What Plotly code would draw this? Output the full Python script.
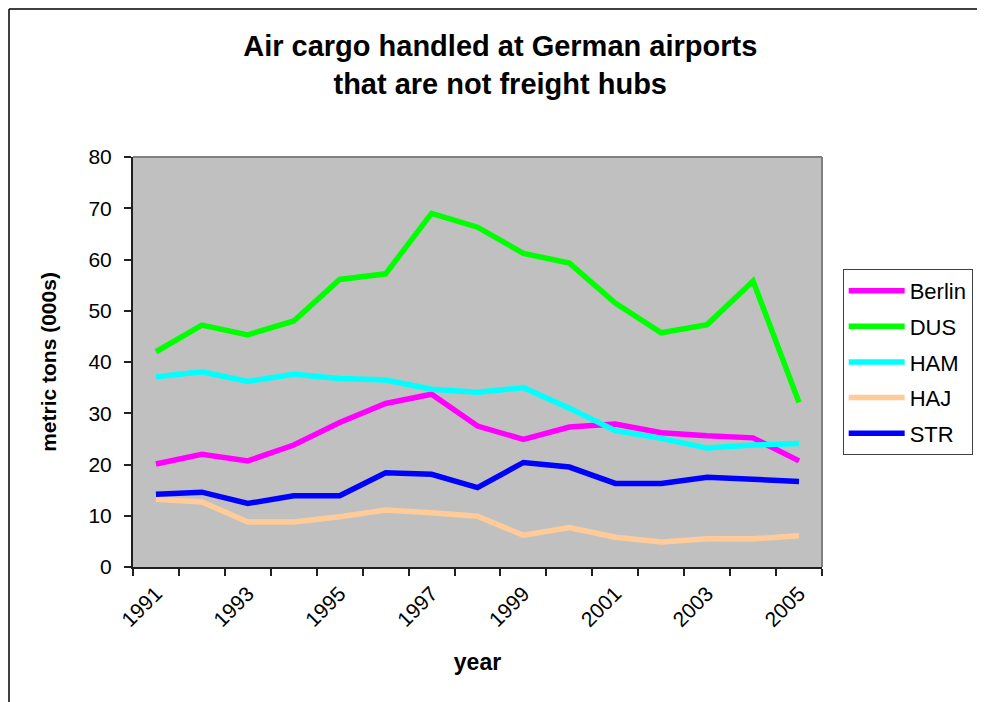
import plotly.graph_objects as go

years = list(range(1991, 2006))
tick_years = [1991, 1993, 1995, 1997, 1999, 2001, 2003, 2005]

berlin = [20.1, 22.0, 20.7, 23.8, 28.2, 31.9, 33.7, 27.5, 24.9, 27.3, 27.9, 26.2, 25.6, 25.2, 20.7]
dus = [42.0, 47.2, 45.3, 48.0, 56.1, 57.2, 69.0, 66.3, 61.2, 59.3, 51.5, 45.7, 47.3, 55.8, 32.1]
ham = [37.1, 38.1, 36.2, 37.6, 36.8, 36.5, 34.7, 34.1, 35.0, 31.0, 26.6, 25.1, 23.2, 23.8, 24.1]
haj = [13.2, 12.7, 8.8, 8.8, 9.8, 11.1, 10.6, 9.9, 6.2, 7.7, 5.8, 4.9, 5.5, 5.5, 6.1]
strr = [14.2, 14.6, 12.4, 13.9, 13.9, 18.4, 18.1, 15.5, 20.4, 19.5, 16.3, 16.3, 17.5, 17.0, 16.7]

series = [
    ("Berlin", berlin, "#FF00FF"),
    ("DUS", dus, "#00FF00"),
    ("HAM", ham, "#00FFFF"),
    ("HAJ", haj, "#FFCC99"),
    ("STR", strr, "#0000FF"),
]

FONT = "Liberation Sans, Arial, sans-serif"

# figure sized to the visible window (page has an 8px body margin)
W, H = 977, 694
L, T = 125, 149
PW, PH = 689, 410
R, B = W - L - PW, H - T - PH

fig = go.Figure()
for name, vals, color in series:
    fig.add_trace(go.Scatter(
        x=years, y=vals, name=name, mode="lines",
        line=dict(color=color, width=5.5),
        legendgroup=name,
    ))

bx0 = (1 - L) / PW
bx1 = (W + 40 - L) / PW
by0 = -(B + 40) / PH
by1 = (PH + T - 1) / PH

fig.update_layout(
    width=W, height=H,
    margin=dict(l=L, r=R, t=T, b=B),
    paper_bgcolor="white",
    plot_bgcolor="#C0C0C0",
    font=dict(family=FONT, color="black"),
    showlegend=True,
    title=dict(
        text="<b>Air cargo handled at German airports<br>that are not freight hubs</b>",
        font=dict(size=29, family=FONT, color="black"),
        x=0.533, xref="paper", xanchor="center",
        y=1 - 48 / H, yref="container", yanchor="middle",
    ),
    legend=dict(
        x=1.03, xanchor="left", y=0.727, yanchor="top",
        bgcolor="white", bordercolor="#404040", borderwidth=1,
        font=dict(size=22, family=FONT, color="black"),
        traceorder="grouped", tracegroupgap=4, itemwidth=56,
    ),
    xaxis=dict(
        range=[1990.5, 2005.5],
        tickmode="array", tickvals=tick_years, ticktext=[str(y) for y in tick_years],
        ticks="", tickangle=-45, ticklabelstandoff=4,
        tickfont=dict(size=21, family=FONT, color="black"),
        showgrid=False, zeroline=False,
        showline=True, linecolor="#202020", linewidth=2,
        minor=dict(tick0=1990.5, dtick=1, ticks="outside", ticklen=7,
                   tickcolor="#202020", tickwidth=1.5, showgrid=False),
        title=dict(text="<b>year</b>", font=dict(size=23, family=FONT, color="black"), standoff=24),
    ),
    yaxis=dict(
        range=[0, 80], dtick=10,
        ticks="outside", ticklen=7, tickcolor="#202020", tickwidth=1.5,
        ticklabelstandoff=8,
        tickfont=dict(size=21, family=FONT, color="black"),
        showgrid=False, zeroline=False,
        showline=True, linecolor="#202020", linewidth=2,
        title=dict(text="<b>metric tons (000s)</b>", font=dict(size=21, family=FONT, color="black"), standoff=26),
    ),
    shapes=[
        dict(type="line", xref="paper", yref="paper", x0=0, x1=1, y0=1, y1=1,
             line=dict(color="#808080", width=2)),
        dict(type="line", xref="paper", yref="paper", x0=1, x1=1, y0=0, y1=1,
             line=dict(color="#808080", width=2)),
        dict(type="line", xref="paper", yref="paper", x0=bx0, x1=bx1, y0=by1, y1=by1,
             line=dict(color="black", width=1.5), layer="below"),
        dict(type="line", xref="paper", yref="paper", x0=bx0, x1=bx0, y0=by0, y1=by1,
             line=dict(color="black", width=1.5), layer="below"),
    ],
)

fig.write_html("out.html")
